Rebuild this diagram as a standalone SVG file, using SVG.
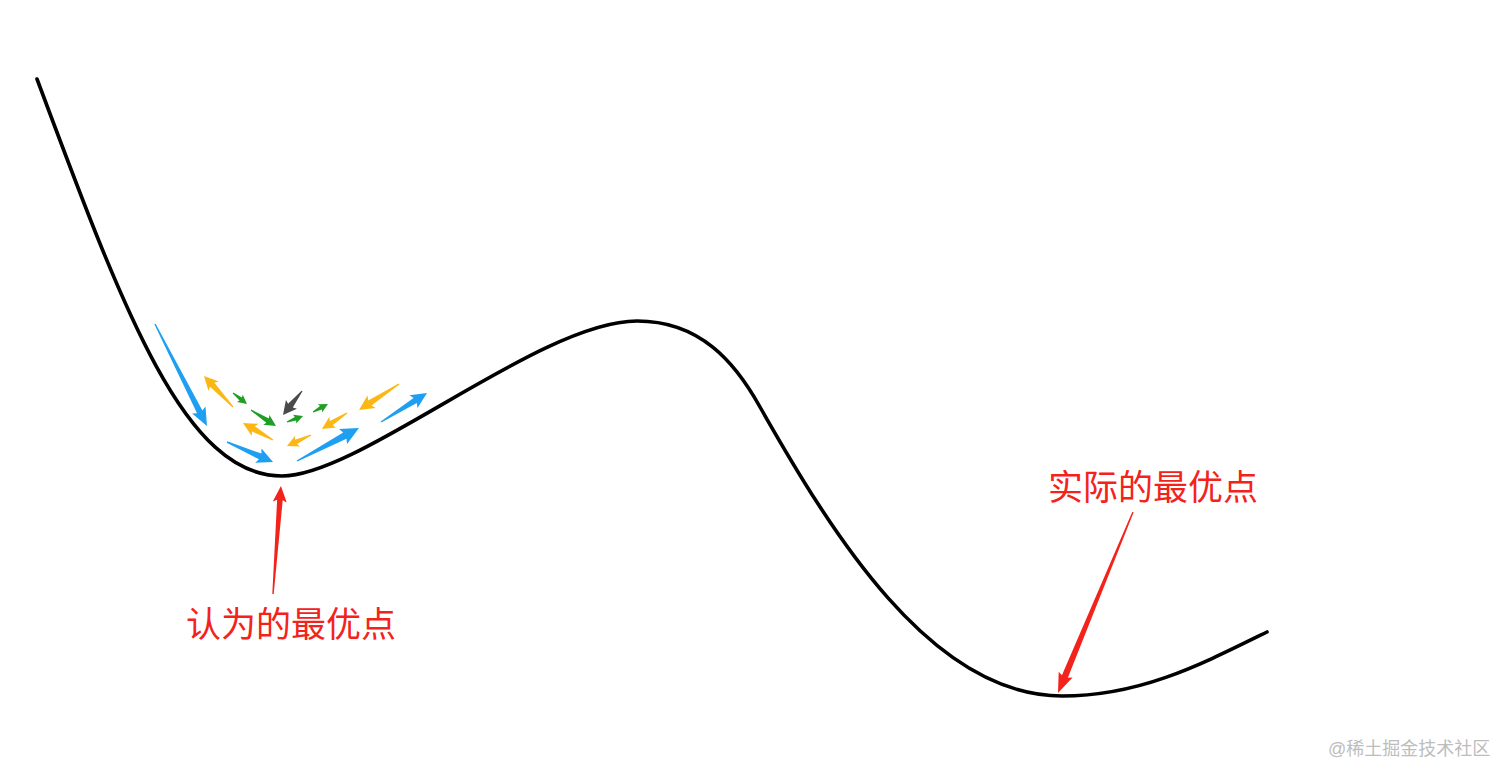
<svg xmlns="http://www.w3.org/2000/svg" width="1512" height="782" viewBox="0 0 1512 782">
<style>
.curve{fill:none;stroke:#000;stroke-width:3.6;stroke-linecap:round}
.blue{fill:#1e9ff2}.yellow{fill:#fbb814}.green{fill:#1f9e24}.gray{fill:#4a4a4a}.red{fill:#f3231c}
.lbl{font-family:"Liberation Sans","Noto Sans CJK SC",sans-serif;font-size:35px;fill:#f3231c}
.wm{font-family:"Liberation Sans","Noto Sans CJK SC",sans-serif;font-size:18px;fill:#bdbdbd}
</style>
<rect width="1512" height="782" fill="#fff"/>
<g id="curve">
<path class="curve" d="M37,79 C125,315 185,476 282,476 C360,476 540,321 637,321 C700,321 735,362 760,407 C830,530 930,696 1062,696 C1140,696 1200,665 1267,632"/>
</g>
<g id="connectors">
<path class="blue" transform="translate(155,324) rotate(63)" d="M0,-0.7 L98.5,-3 L96.5,-7.5 L114.5,0 L96.5,7.5 L98.5,3 L0,0.7 Z"/>
<path class="yellow" transform="translate(233,407) rotate(-133.1)" d="M0,-0.6 L30.4,-3 L28.4,-7 L42.4,0 L28.4,7 L30.4,3 L0,0.6 Z"/>
<path class="green" transform="translate(233,393) rotate(38.2)" d="M0,-0.5 L9.8,-1.9 L8.8,-4.6 L17.8,0 L8.8,4.6 L9.8,1.9 L0,0.5 Z"/>
<path class="green" transform="translate(251,410) rotate(32.6)" d="M0,-0.6 L19.7,-2.4 L18.2,-5.8 L29.7,0 L18.2,5.8 L19.7,2.4 L0,0.6 Z"/>
<path class="gray" transform="translate(302,391) rotate(128.4)" d="M0,-0.6 L18.6,-3 L17,-7 L30.6,0 L17,7 L18.6,3 L0,0.6 Z"/>
<path class="green" transform="translate(287,422) rotate(-20.6)" d="M0,-0.5 L9.1,-1.9 L8.1,-4.6 L17.1,0 L8.1,4.6 L9.1,1.9 L0,0.5 Z"/>
<path class="green" transform="translate(313,412) rotate(-28.1)" d="M0,-0.5 L9,-1.9 L8,-4.6 L17,0 L8,4.6 L9,1.9 L0,0.5 Z"/>
<path class="yellow" transform="translate(399,384) rotate(147)" d="M0,-0.6 L34.7,-3 L32.7,-7.5 L47.7,0 L32.7,7.5 L34.7,3 L0,0.6 Z"/>
<path class="blue" transform="translate(381,422) rotate(-32.2)" d="M0,-0.6 L40.4,-3 L38.4,-7.5 L54.4,0 L38.4,7.5 L40.4,3 L0,0.6 Z"/>
<path class="yellow" transform="translate(273,440) rotate(-150.5)" d="M0,-0.6 L22.5,-3 L20.5,-7 L34.5,0 L20.5,7 L22.5,3 L0,0.6 Z"/>
<path class="yellow" transform="translate(347,413) rotate(147.4)" d="M0,-0.6 L18.7,-2.6 L17,-6.3 L29.7,0 L17,6.3 L18.7,2.6 L0,0.6 Z"/>
<path class="yellow" transform="translate(311,435) rotate(155.4)" d="M0,-0.6 L16.4,-2.4 L15,-5.8 L26.4,0 L15,5.8 L16.4,2.4 L0,0.6 Z"/>
<path class="blue" transform="translate(227,442) rotate(23.5)" d="M0,-0.7 L36.2,-3.1 L34.2,-7.8 L50.2,0 L34.2,7.8 L36.2,3.1 L0,0.7 Z"/>
<path class="blue" transform="translate(297,461) rotate(-28)" d="M0,-0.7 L54.2,-3.5 L52.2,-8.5 L70.2,0 L52.2,8.5 L54.2,3.5 L0,0.7 Z"/>
<path class="red" transform="translate(273,594) rotate(-85.8)" d="M0,-0.7 L94.3,-2.8 L92.3,-7 L108.3,0 L92.3,7 L94.3,2.8 L0,0.7 Z"/>
<path class="red" transform="translate(1133,512) rotate(112.5)" d="M0,-0.7 L178,-3.2 L176,-7.5 L196,0 L176,7.5 L178,3.2 L0,0.7 Z"/>
</g>
<g id="label-local">
<text class="lbl" x="186" y="637">认为的最优点</text>
</g>
<g id="label-global">
<text class="lbl" x="1048" y="500">实际的最优点</text>
</g>
<g id="watermark">
<text class="wm" x="1328" y="755">@稀土掘金技术社区</text>
</g>
</svg>
